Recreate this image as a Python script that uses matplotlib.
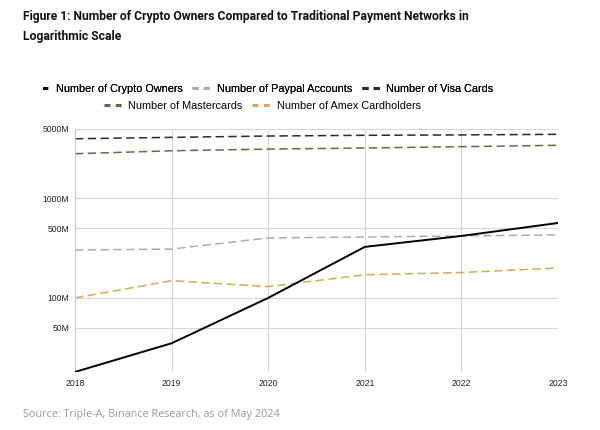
import matplotlib
matplotlib.use("Agg")
import matplotlib.pyplot as plt
from matplotlib.lines import Line2D
from matplotlib.ticker import FixedLocator, FixedFormatter, NullLocator

plt.rcParams["lines.scale_dashes"] = False

years = [2018, 2019, 2020, 2021, 2022, 2023]
crypto = [18, 35, 100, 326, 420, 567]
paypal = [303, 310, 401, 410, 420, 430]
visa = [3990, 4120, 4250, 4320, 4360, 4420]
mastercard = [2820, 3020, 3140, 3220, 3320, 3430]
amex = [100, 149, 130, 171, 180, 200]

names = ["Number of Crypto Owners", "Number of Paypal Accounts", "Number of Visa Cards",
         "Number of Mastercards", "Number of Amex Cardholders"]
colors = ["#000000", "#bda5a7", "#2f2a1f", "#74643e", "#d8a94f"]

yticks = [50, 100, 500, 1000, 5000]
ytick_labels = ["50M", "100M", "500M", "1000M", "5000M"]

fig = plt.figure(figsize=(6, 4.3), dpi=100)
ax = fig.add_axes([0.125, 0.135, 0.805, 0.565])

ax.set_yscale("log")
ax.set_ylim(18, 5000)
ax.set_xlim(2018, 2023)

dash = (0, (6, 3.2))
series = [crypto, paypal, visa, mastercard, amex]
for i, (vals, name, col) in enumerate(zip(series, names, colors)):
    if i == 0:
        ax.plot(years, vals, color=col, lw=1.4, label=name, zorder=5)
    else:
        ax.plot(years, vals, color=col, lw=1.1, ls=dash, label=name)

ax.yaxis.set_major_locator(FixedLocator(yticks))
ax.yaxis.set_major_formatter(FixedFormatter(ytick_labels))
ax.yaxis.set_minor_locator(NullLocator())
ax.set_xticks(years)
ax.set_xticklabels([str(y) for y in years])

ax.grid(True, color="#d6d6d6", lw=0.8)
ax.set_axisbelow(True)
for s in ["top", "right", "bottom"]:
    ax.spines[s].set_visible(False)
ax.spines["left"].set_color("#c8c8c8")
ax.spines["left"].set_linewidth(0.8)
ax.tick_params(axis="y", length=0, labelsize=6.2, colors="#222222", pad=4)
ax.tick_params(axis="x", length=0, labelsize=6.2, colors="#222222", pad=5)
for lab in ax.get_xticklabels() + ax.get_yticklabels():
    lab.set_fontfamily("Liberation Sans")

fig.text(0.038, 0.977, "Figure 1: Number of Crypto Owners Compared to Traditional Payment Networks in\nLogarithmic Scale",
         fontsize=8.7, fontweight="bold", family="Roboto", va="top", ha="left", linespacing=1.7, color="#111111")

def handle(i):
    if i == 0:
        return Line2D([], [], color=colors[0], lw=2.2, ls=(0, (0.01, 8.4, 3.6, 100)), solid_capstyle="butt",
                      dash_capstyle="butt")
    return Line2D([], [], color=colors[i], lw=2.2, ls=(0, (4.3, 3.8)), dash_capstyle="butt")

legprops = {"family": "Liberation Sans", "size": 7.8}
leg1 = fig.legend([handle(i) for i in range(3)], names[:3], loc="center", bbox_to_anchor=(0.437, 0.793),
                  ncol=3, frameon=False, prop=legprops, handlelength=1.65, handletextpad=0.6,
                  columnspacing=0.9, borderpad=0)
fig.add_artist(leg1)
leg2 = fig.legend([handle(i) for i in range(3, 5)], names[3:], loc="center", bbox_to_anchor=(0.437, 0.753),
                  ncol=2, frameon=False, prop=legprops, handlelength=1.65, handletextpad=0.6,
                  columnspacing=0.9, borderpad=0)

fig.text(0.038, 0.035, "Source: Triple-A, Binance Research, as of May 2024", fontsize=7.8,
         family="Open Sans", color="#9a9a9a", ha="left", va="center")

fig.savefig("out.png", dpi=100, facecolor="white")
